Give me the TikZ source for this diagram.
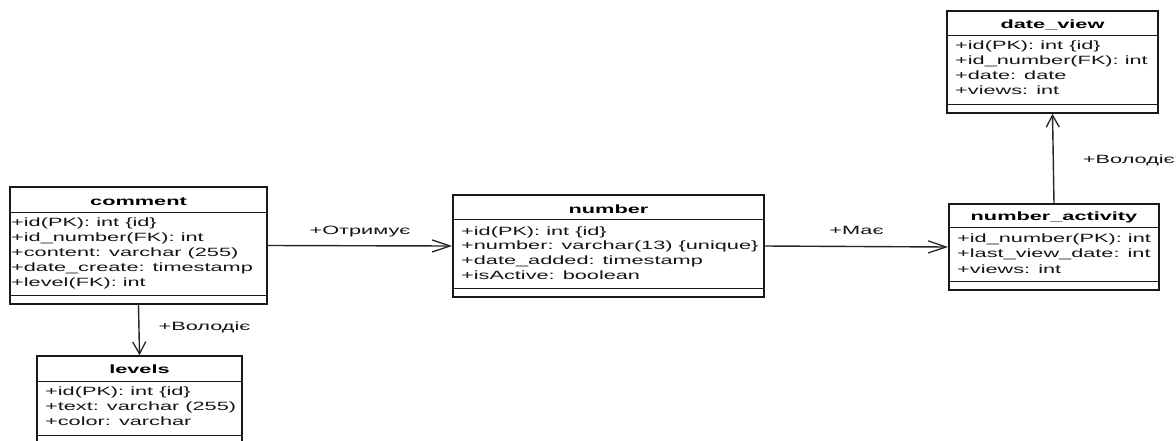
\documentclass[tikz,border=0pt]{standalone}
\usepackage{fontspec}
\setmainfont{Liberation Sans}
\usetikzlibrary{arrows.meta}
\newcommand{\wx}[1]{\scalebox{1.81}[1]{#1}}
\tikzset{
  classbox/.style={draw=black!90, line width=1.6pt, fill=white, inner sep=0pt},
  sepline/.style={draw=black!90, line width=1pt},
  ctitle/.style={font=\fontsize{12}{15}\selectfont\bfseries, inner sep=0pt, anchor=base, text=black},
  attr/.style={font=\fontsize{12}{15}\selectfont, inner sep=0pt, anchor=base west, text=black!92},
  lbl/.style={font=\fontsize{12}{15}\selectfont, inner sep=0pt, text=black!92},
  conn/.style={draw=black!85, line width=1.4pt},
  hhead/.style={-{Straight Barb[length=18pt,width=12pt,line width=1.3pt]}},
  vhead/.style={-{Straight Barb[length=12pt,width=13pt,line width=1.3pt]}}
}
\begin{document}
\begin{tikzpicture}[x=1pt,y=-1pt]
\useasboundingbox[fill=white] (0,0) rectangle (1176,440);

% comment
\node[classbox, minimum width=257pt, minimum height=117pt] (comment) at (138.5,245.5) {};
\draw[sepline] (10,212) -- (267,212);
\draw[sepline] (10,295) -- (267,295);
\node[ctitle] (commentT) at (138.5,205) {\wx{comment}};
\foreach \t [count=\i from 0] in {+id(PK): int \{id\},+id\_number(FK): int,+content: varchar (255),+date\_create: timestamp,+level(FK): int}
  \node[attr] (commentA\i) at (11, 226+15*\i) {\wx{\t}};

% levels
\node[classbox, minimum width=205pt, minimum height=88pt] (levels) at (139.5,400) {};
\draw[sepline] (37,381) -- (242,381);
\draw[sepline] (37,435) -- (242,435);
\node[ctitle] (levelsT) at (139.5,373) {\wx{levels}};
\foreach \t [count=\i from 0] in {+id(PK): int \{id\},+text: varchar (255),+color: varchar}
  \node[attr] (levelsA\i) at (45, 395+15*\i) {\wx{\t}};

% number
\node[classbox, minimum width=311pt, minimum height=102pt] (number) at (608.5,246) {};
\draw[sepline] (453,219) -- (764,219);
\draw[sepline] (453,288) -- (764,288);
\node[ctitle] (numberT) at (608.5,213) {\wx{number}};
\foreach \t [count=\i from 0] in {+id(PK): int \{id\},+number: varchar(13) \{unique\},+date\_added: timestamp,+isActive: boolean}
  \node[attr] (numberA\i) at (461, 235+14.7*\i) {\wx{\t}};

% number_activity
\node[classbox, minimum width=210pt, minimum height=86pt] (activity) at (1054,247) {};
\draw[sepline] (949,227) -- (1159,227);
\draw[sepline] (949,281) -- (1159,281);
\node[ctitle] (activityT) at (1054,220) {\wx{number\_activity}};
\foreach \t [count=\i from 0] in {+id\_number(PK): int,+last\_view\_date: int,+views: int}
  \node[attr] (activityA\i) at (957, 242+15.5*\i) {\wx{\t}};

% date_view
\node[classbox, minimum width=211pt, minimum height=102pt] (dateview) at (1052.5,62) {};
\draw[sepline] (947,35) -- (1158,35);
\draw[sepline] (947,104) -- (1158,104);
\node[ctitle] (dateviewT) at (1052.5,28) {\wx{date\_view}};
\foreach \t [count=\i from 0] in {+id(PK): int \{id\},+id\_number(FK): int,+date: date,+views: int}
  \node[attr] (dateviewA\i) at (955, 49+15.3*\i) {\wx{\t}};

% connectors
\draw[conn, hhead] (comment.east) -- node[lbl, midway, anchor=base, yshift=11pt] (l1) {\wx{+Отримує}} (number.west);
\draw[conn, hhead] (number.east) -- node[lbl, midway, anchor=base, yshift=12pt] (l2) {\wx{+Має}} (activity.west);
\draw[conn, vhead] (comment.south) -- node[lbl, midway, anchor=base west, xshift=19pt, yshift=-0.5pt] (l3) {\wx{+Володіє}} (levels.north);
\draw[conn, vhead] (activity.north) -- node[lbl, midway, anchor=base west, xshift=29pt, yshift=-4.5pt] (l4) {\wx{+Володіє}} (dateview.south);
\end{tikzpicture}
\end{document}
